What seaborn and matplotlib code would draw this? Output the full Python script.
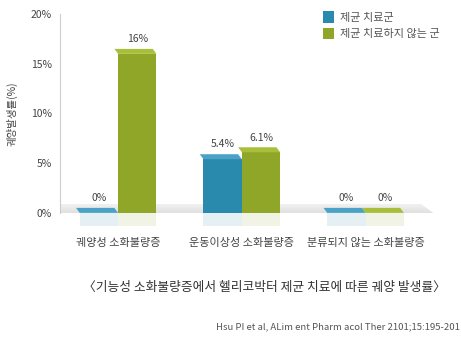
import numpy as np
import pandas as pd
import matplotlib.pyplot as plt
import seaborn as sns
from matplotlib.patches import Polygon, Patch, Rectangle

# data
categories = ['궤양성 소화불량증', '운동이상성 소화불량증', '분류되지 않는 소화불량증']
groups = ['제균 치료군', '제균 치료하지 않는 군']
treated = [0, 5.4, 0]
untreated = [16, 6.1, 0]
yticks = [0, 5, 10, 15, 20]

colors = ['#2a8aae', '#8fa628']
tops = ['#4aa3c6', '#a8bf3c']

sns.set_style('white')
plt.rcParams['font.family'] = ['Noto Sans CJK KR', 'DejaVu Sans']

df = pd.DataFrame({
    'type': categories * 2,
    'group': [groups[0]] * 3 + [groups[1]] * 3,
    'rate': treated + untreated,
})

fig = plt.figure(figsize=(4.61, 3.62), dpi=100)
ax = fig.add_axes([0.13, 0.412, 0.824, 0.549])

# floor under the bars, gray gradient
floor = Polygon([(-0.64, -0.5), (2.6, -0.5), (2.45, 0.9), (-0.47, 0.9)],
                closed=True, fc='none', ec='none')
ax.add_patch(floor)
im = ax.imshow(np.linspace(0, 1, 50).reshape(-1, 1), extent=(-0.64, 2.6, -0.5, 0.9),
               cmap=sns.light_palette('#d6d6d6', as_cmap=True), vmin=0, vmax=1,
               aspect='auto', origin='upper', zorder=0)
im.set_clip_path(floor)
im.set_clip_box(None)

shadow = Polygon([(-0.64, -0.5), (2.6, -0.5), (2.5, -2.0), (-0.5, -2.0)],
                 closed=True, fc='none', ec='none')
ax.add_patch(shadow)
im2 = ax.imshow(np.linspace(0, 1, 50).reshape(-1, 1), extent=(-0.64, 2.6, -2.0, -0.5),
                cmap=sns.light_palette('#eeeeee', as_cmap=True), vmin=0, vmax=1,
                aspect='auto', origin='lower', zorder=0)
im2.set_clip_path(shadow)
im2.set_clip_box(None)

sns.barplot(data=df, x='type', y='rate', hue='group', palette=colors,
            width=0.62, saturation=1, legend=False, linewidth=0, ax=ax, zorder=2)

# fake 3d top face + faint reflection
dx, dy = -0.03, 0.5
for cont, tc, c in zip(ax.containers, tops, colors):
    for p in cont.patches:
        x0 = p.get_x()
        w = p.get_width()
        h = p.get_height()
        top = Polygon([(x0, h), (x0 + w, h), (x0 + w + dx, h + dy), (x0 + dx, h + dy)],
                      closed=True, fc=tc, ec='none', zorder=3)
        ax.add_patch(top)
        ax.add_patch(Rectangle((x0, 0), w, -1.3, fc=c, ec='none', alpha=0.12,
                               zorder=1, clip_on=False))
    ax.bar_label(cont, labels=[f'{v:g}%' for v in cont.datavalues],
                 padding=7, fontsize=7.5, color='#444444')

ax.set_xlim(-0.47, 2.6)
ax.set_ylim(0, 20)
ax.set_yticks(yticks)
ax.set_yticklabels([f'{t}%' for t in yticks], fontsize=7.5, color='#444444')
ax.tick_params(axis='y', length=3, color='#cccccc', pad=3)
ax.tick_params(axis='x', length=0, pad=18)
ax.set_xticks(range(len(categories)))
ax.set_xticklabels(categories, fontsize=8, color='#444444')
ax.set_xlabel('')
ax.set_ylabel('궤양발생률(%)', fontsize=7.5, color='#444444', labelpad=9)
for s in ['top', 'right', 'bottom']:
    ax.spines[s].set_visible(False)
ax.spines['left'].set_color('#cccccc')
ax.spines['left'].set_linewidth(0.8)

handles = [Patch(fc=c, ec='none') for c in colors]
ax.legend(handles, groups, loc='upper left', bbox_to_anchor=(0.665, 1.065),
          frameon=False, fontsize=8, handlelength=1.0, handleheight=1.2,
          handletextpad=0.6, labelspacing=0.45, labelcolor='#555555')

fig.text(0.574, 0.207, '〈기능성 소화불량증에서 헬리코박터 제균 치료에 따른 궤양 발생률〉',
         ha='center', va='center', fontsize=9.2, color='#333333')
fig.text(0.998, 0.097, 'Hsu PI et al, ALim ent Pharm acol Ther 2101;15:195-201',
         ha='right', va='center', fontsize=6.9, color='#555555')

fig.savefig('out.png', dpi=100)
